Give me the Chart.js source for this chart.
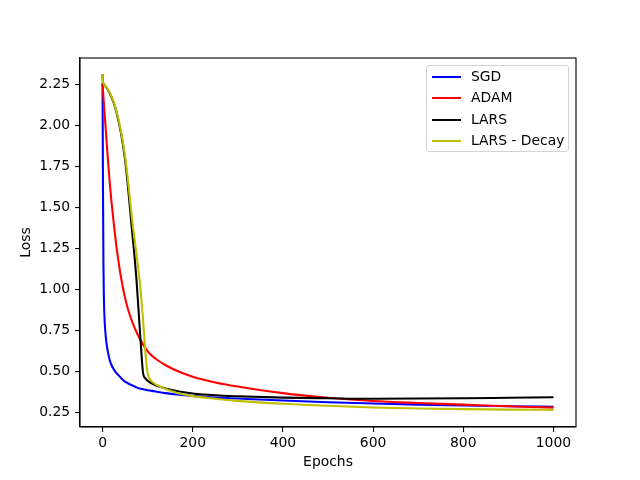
<!DOCTYPE html>
<html>
<head>
<meta charset="utf-8">
<script src="https://cdn.jsdelivr.net/npm/chart.js@4"></script>
<style>
  body { margin: 0; background: #fff; }
  #wrap { position: relative; width: 640px; height: 480px; }
  #legend {
    position: absolute; left: 426px; top: 65px; width: 141px; height: 85px;
    border: 1px solid #d4d4d4; border-radius: 3px; background: rgba(255,255,255,0.8);
    font-family: "DejaVu Sans", sans-serif; font-size: 13.9px; color: #000;
  }
  .row { position: relative; height: 21.4px; }
  .swatch { position: absolute; left: 5px; top: 10px; width: 29px; height: 2px; }
  .lbl { position: absolute; left: 44px; top: 0; line-height: 21.4px; white-space: nowrap; }
</style>
</head>
<body>
<div id="wrap">
  <canvas id="myChart" width="640" height="480"></canvas>
  <div id="legend"></div>
</div>
<script>
var epochs = [0, 1, 2, 3, 4, 6, 9, 12, 16, 20, 25, 30, 35, 40, 45, 50, 55, 60, 65, 70, 75, 80, 85, 90, 95, 100,
              105, 110, 120, 140, 170, 200, 250, 300, 400, 500, 600, 700, 800, 900, 1000];

var sgd = [2.26, 1.60, 1.15, 0.95, 0.85, 0.75, 0.67, 0.62, 0.57, 0.54, 0.515, 0.495, 0.48, 0.465, 0.452, 0.44,
           0.432, 0.425, 0.418, 0.412, 0.405, 0.40, 0.397, 0.394, 0.391, 0.388, 0.386, 0.384, 0.378, 0.370,
           0.360, 0.353, 0.343, 0.337, 0.325, 0.315, 0.307, 0.300, 0.295, 0.290, 0.287];

var adam = [2.25, 2.21, 2.17, 2.13, 2.09, 2.02, 1.90, 1.79, 1.65, 1.53, 1.40, 1.28, 1.18, 1.09, 1.015, 0.95,
            0.895, 0.85, 0.81, 0.775, 0.745, 0.715, 0.69, 0.665, 0.645, 0.625, 0.61, 0.597, 0.575, 0.54,
            0.50, 0.47, 0.435, 0.41, 0.37, 0.342, 0.322, 0.31, 0.30, 0.29, 0.282];

var lars = [2.31, 2.26, 2.255, 2.25, 2.245, 2.238, 2.228, 2.215, 2.195, 2.17, 2.135, 2.09, 2.03, 1.965, 1.885, 1.79,
            1.665, 1.52, 1.37, 1.23, 1.07, 0.87, 0.66, 0.49, 0.46, 0.445, 0.435, 0.428, 0.415, 0.398,
            0.38, 0.368, 0.357, 0.351, 0.343, 0.339, 0.336, 0.337, 0.339, 0.342, 0.345];

var larsDecay = [2.31, 2.26, 2.255, 2.25, 2.245, 2.238, 2.23, 2.218, 2.20, 2.175, 2.14, 2.095, 2.04, 1.975, 1.90, 1.81,
                 1.70, 1.57, 1.44, 1.33, 1.22, 1.11, 0.98, 0.81, 0.62, 0.49, 0.455, 0.44, 0.42, 0.395,
                 0.368, 0.352, 0.336, 0.323, 0.305, 0.293, 0.283, 0.277, 0.273, 0.27, 0.268];

var xTicks = [0, 200, 400, 600, 800, 1000];
var yTicks = [0.25, 0.50, 0.75, 1.00, 1.25, 1.50, 1.75, 2.00, 2.25];

var labels = ["SGD", "ADAM", "LARS", "LARS - Decay"];
var colors = ["#0000ff", "#ff0000", "#000000", "#bfbf00"];
var series = [sgd, adam, lars, larsDecay];

function toPoints(vals) {
    var pts = [];
    for (var i = 0; i < epochs.length; i++) {
        pts.push({x: epochs[i], y: vals[i]});
    }
    return pts;
}

var font = {family: "DejaVu Sans", size: 13.9};

var datasets = series.map(function (s, i) {
    return {
        label: labels[i],
        data: toPoints(s),
        borderColor: colors[i],
        borderWidth: 2.08,
        pointRadius: 0,
        fill: false,
        cubicInterpolationMode: 'monotone',
        order: series.length - i
    };
});

// matplotlib draws the full box round the axes
var boxPlugin = {
    id: 'box',
    afterDraw: function (chart) {
        var a = chart.chartArea, ctx = chart.ctx;
        ctx.save();
        ctx.strokeStyle = '#000';
        ctx.lineWidth = 1.1;
        ctx.strokeRect(a.left, a.top, a.right - a.left, a.bottom - a.top);
        ctx.restore();
    }
};

var tickSetup = {
    drawOnChartArea: false,
    drawTicks: true,
    tickLength: 4.9,
    color: '#000',
    lineWidth: 1.1
};

var myChart = new Chart(document.getElementById("myChart"), {
    type: 'line',
    data: {datasets: datasets},
    plugins: [boxPlugin],
    options: {
        responsive: false,
        animation: false,
        devicePixelRatio: 1,
        layout: {padding: {left: 0, right: 64, top: 58, bottom: 0}},
        plugins: {legend: {display: false}, tooltip: {enabled: false}},
        scales: {
            x: {
                type: 'linear',
                min: -50,
                max: 1050,
                grid: tickSetup,
                border: {color: '#000', width: 1.1},
                ticks: {color: '#000', font: font, padding: 3, maxRotation: 0,
                        callback: function (v) { return String(v); }},
                afterBuildTicks: function (axis) {
                    axis.ticks = xTicks.map(function (v) { return {value: v}; });
                },
                afterFit: function (axis) { axis.height = 53; },
                title: {display: true, text: 'Epochs', color: '#000', font: font, padding: {bottom: 9}}
            },
            y: {
                type: 'linear',
                min: 0.164,
                max: 2.41,
                grid: tickSetup,
                border: {color: '#000', width: 1.1},
                ticks: {color: '#000', font: font, padding: 5,
                        callback: function (v) { return v.toFixed(2); }},
                afterBuildTicks: function (axis) {
                    axis.ticks = yTicks.map(function (v) { return {value: v}; });
                },
                afterFit: function (axis) { axis.width = 80; },
                title: {display: true, text: 'Loss', color: '#000', font: font, padding: {top: 18}}
            }
        }
    }
});

// legend built from the chart's own datasets
var legend = document.getElementById("legend");
myChart.data.datasets.forEach(function (ds) {
    var row = document.createElement("div");
    row.className = "row";
    var sw = document.createElement("div");
    sw.className = "swatch";
    sw.style.background = ds.borderColor;
    var lb = document.createElement("span");
    lb.className = "lbl";
    lb.textContent = ds.label;
    row.appendChild(sw);
    row.appendChild(lb);
    legend.appendChild(row);
});
</script>
</body>
</html>
